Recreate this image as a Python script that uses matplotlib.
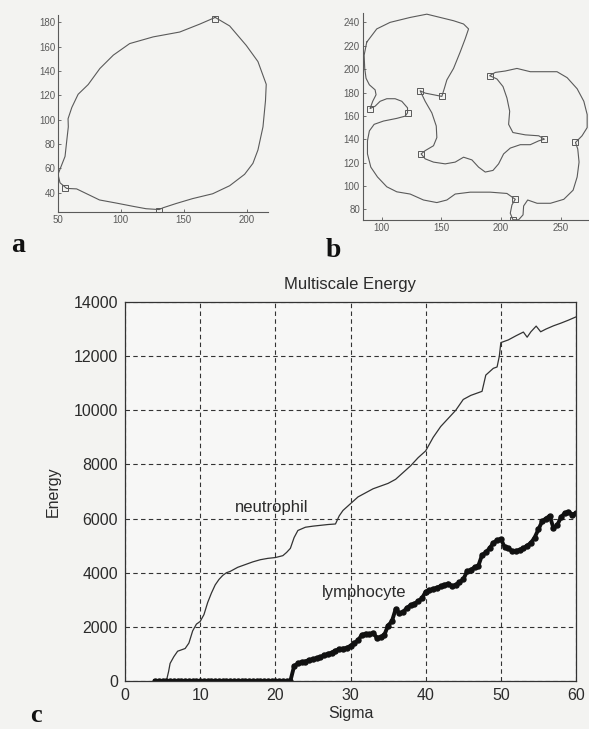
import numpy as np
import matplotlib
matplotlib.use("Agg")
import matplotlib.pyplot as plt

plt.rcParams['font.family'] = ['Liberation Sans', 'DejaVu Sans']

# (a) outline of the neutrophil, x/y in image pixels
cell_a_x = [175, 186.5, 199.7, 209, 215.6, 215, 213, 209, 205, 198.4, 186.5, 173, 157, 144,
            133.6, 130.4, 120, 110, 96.6, 83, 72.8, 64.8, 56.9, 51.6, 50, 55.6, 57, 58.2, 58,
            61, 66, 74, 83.3, 94, 107, 125.7, 146.8, 162.7, 175]
cell_a_y = [184, 177, 161, 147.7, 129, 115.5, 94, 75, 64, 55, 45.6, 39, 35, 31,
            27.5, 26, 26.7, 28.6, 31.3, 33.9, 39, 43, 43.4, 48, 55, 69.7, 83, 94, 100.7,
            110, 120.8, 128.8, 142, 153, 162.5, 168, 172, 178.5, 184]
mark_a_x = [175, 55.5, 130]
mark_a_y = [183, 44, 25]

# (b) outline of the lymphocyte
cell_b_x = [87.4, 95.8, 107, 123.8, 137.8, 149, 160.2, 168.6, 172.8, 170, 165.8, 160.2, 154.6,
            152.4, 150.4, 143.4, 136.4, 132.2, 136.4, 142, 145.7, 146.2, 143.4, 136.4, 133,
            136.4, 143.4, 153.2, 161.6, 168.6, 175.6, 181.2, 186.8, 193.3, 198, 202.2, 207.8,
            216.2, 224.6, 231.7, 236.4, 231.7, 220.4, 210, 206.4, 207.3, 205, 201.7, 196.6,
            190.5, 195.2, 203.6, 213.4, 224.6, 235.9, 247, 255.5, 263.9, 269.5, 272.3, 272.3,
            268, 262.5, 264.4, 265.5, 263.9, 260.5, 252.7, 241.5, 230.3, 222.4, 219, 218.5,
            214.8, 210, 207.8, 209.2, 212, 205, 191, 174.2, 161.6, 154.6, 146.2, 135, 123.8,
            112.6, 104.2, 96.4, 90.8, 88, 88, 89.6, 93.6, 101.4, 112.6, 119.6, 121.6, 121.6,
            116.8, 111.2, 104.2, 98.6, 94.4, 90.2, 92.4, 95.2, 94.4, 89.6, 86.8, 85.7, 85.2, 87.4]
cell_b_y = [223.1, 234.4, 240, 244.2, 247, 244.2, 241.4, 238.6, 234.4, 226, 214.7, 200.6, 190.8,
            183.2, 176.7, 178.1, 179.5, 181.5, 172.5, 162.6, 151.4, 141.5, 134.5, 130.3, 127.5,
            123.3, 120.5, 119, 120.5, 124.7, 122.4, 116.2, 112, 113.4, 119, 127.5, 132.5,
            135.4, 135.4, 138.7, 140.1, 143, 143.8, 145.8, 152.8, 164, 175.3, 185.1, 191.6,
            194.4, 197.2, 198.4, 200.6, 197.8, 197.8, 197.8, 192.7, 183.2, 172.5, 161.2, 150,
            143, 137.3, 131.7, 120.5, 107.8, 96.5, 88.7, 85.3, 85.3, 88.1, 83, 75.4,
            71.2, 71.2, 76.8, 83.9, 88.7, 93.7, 94.8, 94.8, 93.2, 88.1, 85.9, 88.1, 93.2,
            95.1, 99.4, 107.8, 116.2, 127.5, 138.7, 147.2, 152.8, 155.6, 157.9, 159.8, 162.6, 166.9,
            172.5, 174.7, 174.7, 172.5, 168.3, 166.3, 172.5, 178.1, 182.3, 186.6, 192.2, 200.6, 211.9, 223.1]
mark_b_x = [150.4, 132.2, 133, 236.4, 190.5, 262.5, 210, 212, 121.6, 90.2]
mark_b_y = [176.7, 181.5, 127.5, 140.1, 194.4, 137.3, 71.2, 88.7, 162.6, 166.3]

# (c) multiscale energy
neut_sigma = [5.5, 5.8, 6, 6.5, 7, 7.5, 8, 8.5, 9, 9.5, 10, 10.5, 11, 11.5, 12, 12.5, 13, 13.5,
              14, 15, 16, 17, 18, 19, 20, 21, 21.5, 22, 22.5, 23, 24, 25, 26, 27, 28, 28.5, 29,
              30, 31, 32, 33, 34, 35, 36, 37, 38, 39, 40, 41, 42, 43, 44, 45, 46, 47, 47.5, 48,
              49, 49.5, 49.8, 50, 51, 52, 53, 53.5, 54, 54.7, 55.3, 56, 57, 58, 59, 60]
neut_energy = [0, 350, 650, 900, 1100, 1150, 1200, 1400, 1850, 2100, 2200, 2450, 2900, 3250,
               3550, 3750, 3900, 4000, 4050, 4200, 4300, 4400, 4480, 4530, 4560, 4630, 4750,
               4900, 5300, 5560, 5680, 5720, 5750, 5780, 5800, 6100, 6300, 6550, 6800, 6950,
               7100, 7200, 7300, 7450, 7700, 7950, 8250, 8500, 9000, 9400, 9700, 10000, 10400,
               10550, 10650, 10700, 11300, 11550, 11600, 12000, 12500, 12600, 12750, 12890,
               12700, 12900, 13110, 12900, 13000, 13120, 13220, 13330, 13450]

lymph_sigma = np.arange(4, 60.01, 0.5)
lymph_energy = [0] * 37 + [
    550, 650, 700, 720, 780, 800, 850, 880, 950, 1000, 1050, 1120, 1180, 1200, 1220, 1300,
    1400, 1500, 1700, 1750, 1720, 1780, 1600, 1620, 1700, 2050, 2200, 2650, 2500, 2550, 2700,
    2800, 2850, 2950, 3050, 3300, 3350, 3400, 3450, 3500, 3550, 3600, 3500, 3550, 3650, 3750,
    4050, 4100, 4200, 4250, 4650, 4750, 4900, 5100, 5200, 5250, 4950, 4900, 4800, 4800, 4850,
    4900, 5000, 5100, 5300, 5600, 5900, 6000, 6100, 5650, 5750, 6050, 6200, 6250, 6150, 6200]

paper = '#f3f3f1'
ink = '#2b2b2b'
W, H = 589, 729

fig = plt.figure(figsize=(5.89, 7.29), dpi=100, facecolor=paper)


def px_rect(left, top, right, bottom):
    return [left / W, 1 - bottom / H, (right - left) / W, (bottom - top) / H]


def outline_axes(rect, xs, ys, mx, my, xticks, yticks, xlim, ylim):
    ax = fig.add_axes(rect, facecolor=paper)
    ax.plot(xs, ys, color='#5a5a5a', lw=0.8)
    ax.plot(mx, my, 's', ms=4, mfc='none', mec='#5a5a5a', mew=0.7)
    ax.set_xlim(*xlim)
    ax.set_ylim(*ylim)
    ax.set_xticks(xticks)
    ax.set_yticks(yticks)
    for s in ['top', 'right']:
        ax.spines[s].set_visible(False)
    for s in ['left', 'bottom']:
        ax.spines[s].set_color('#5a5a5a')
        ax.spines[s].set_linewidth(0.8)
    ax.tick_params(direction='in', length=2, width=0.6, color='#5a5a5a',
                   labelsize=7, labelcolor='#5a5a5a', pad=2)
    return ax


ax_a = outline_axes(px_rect(58, 15, 268, 212), cell_a_x, cell_a_y, mark_a_x, mark_a_y,
                    [50, 100, 150, 200], [40, 60, 80, 100, 120, 140, 160, 180],
                    (50, 217), (24, 186))
ax_b = outline_axes(px_rect(362.7, 13, 588, 220), cell_b_x, cell_b_y, mark_b_x, mark_b_y,
                    [100, 150, 200, 250], [80, 100, 120, 140, 160, 180, 200, 220, 240],
                    (84, 273), (71, 248))

# panel letters
for letter, x, y in [('a', 18, 252), ('b', 333, 257)]:
    fig.text(x / W, 1 - y / H, letter, family='Liberation Serif', weight='bold',
             fontsize=20, ha='center', va='baseline', color='#111111')
fig.text(36 / W, 1 - 727 / H, 'c', family='Liberation Serif', weight='bold',
         fontsize=19, ha='center', va='bottom', color='#111111')

# main energy plot
ax = fig.add_axes(px_rect(125, 302, 576, 681), facecolor='#f7f7f6')
ax.plot(neut_sigma, neut_energy, color='#333333', lw=0.9)
ax.plot(lymph_sigma, lymph_energy, color='#111111', lw=2.8, marker='o', ms=3.6,
        mfc='#111111', mec='#111111')
ax.set_xlim(0, 60)
ax.set_ylim(0, 14000)
ax.set_xticks(range(0, 61, 10))
ax.set_yticks(range(0, 14001, 2000))
ax.grid(True, color='#333333', linestyle=(0, (4, 3)), lw=0.8)
for s in ax.spines.values():
    s.set_color('#333333')
    s.set_linewidth(0.9)
ax.tick_params(direction='in', length=3, width=0.7, color='#333333',
               labelsize=11.5, labelcolor=ink, pad=5)
ax.set_title('Multiscale Energy', fontsize=12, color=ink, pad=9)
ax.set_xlabel('Sigma', fontsize=11.5, color=ink, labelpad=2)
ax.set_ylabel('Energy', fontsize=11.5, color=ink, labelpad=9)

ax.text(19.5, 6400, 'neutrophil', fontsize=12, color=ink, ha='center', va='center')
ax.text(31.8, 3280, 'lymphocyte', fontsize=12, color=ink, ha='center', va='center')

fig.savefig('out.png', dpi=100, facecolor=paper)
